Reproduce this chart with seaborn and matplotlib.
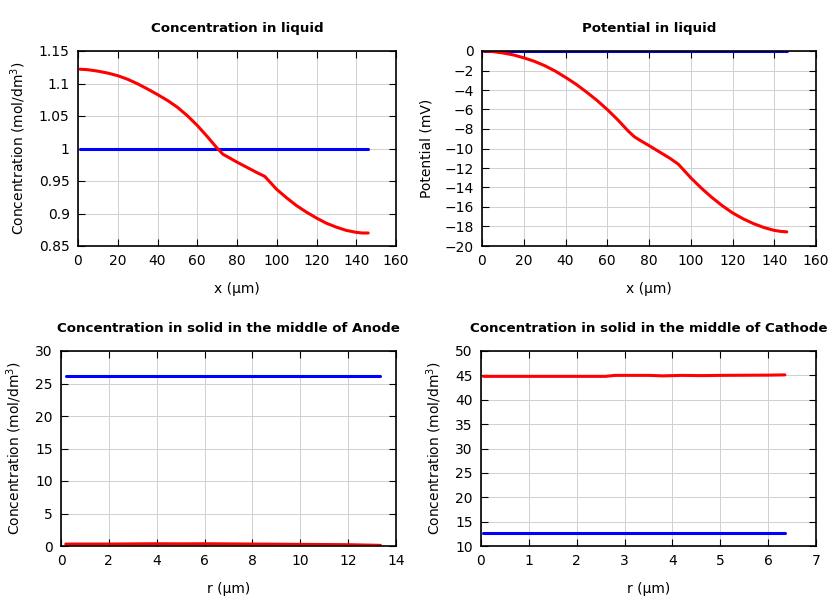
import numpy as np
import matplotlib
matplotlib.use("Agg")
import matplotlib.pyplot as plt
import seaborn as sns

sns.set_style("ticks")
plt.rcParams['font.family'] = ['DejaVu Sans']
plt.rcParams['text.color'] = 'black'
plt.rcParams['axes.labelcolor'] = 'black'
plt.rcParams['xtick.color'] = 'black'
plt.rcParams['ytick.color'] = 'black'

# Concentration in liquid (mol/dm3) vs x (um)
x_liq = [1, 5, 10, 15, 20, 25, 30, 35, 40, 45, 50, 55, 60, 65, 70, 73, 76, 80, 85, 90, 94,
         97, 100, 105, 110, 115, 120, 125, 130, 135, 140, 143, 146]
c_liq_red = [1.1220, 1.1212, 1.1190, 1.1160, 1.1120, 1.1065, 1.0995, 1.0915, 1.0830,
             1.0740, 1.0635, 1.0505, 1.0355, 1.0185, 1.0005, 0.991, 0.986, 0.979, 0.971,
             0.963, 0.957, 0.947, 0.937, 0.924, 0.912, 0.902, 0.893, 0.885, 0.879, 0.874,
             0.871, 0.870, 0.870]
c_liq_blue = [1.0] * len(x_liq)

# Potential in liquid (mV)
phi_red = [0.0, -0.05, -0.2, -0.4, -0.7, -1.05, -1.5, -2.05, -2.7, -3.4, -4.2,
           -5.05, -6.0, -7.05, -8.2, -8.8, -9.2, -9.7, -10.35, -11.0, -11.6,
           -12.3, -13.0, -14.05, -15.0, -15.85, -16.6, -17.2, -17.7, -18.1, -18.4, -18.5, -18.55]
phi_blue = [0.0] * len(x_liq)

# Anode solid concentration vs r
r_an = [0.2, 2, 4, 5, 6, 8, 10, 12, 13.35]
c_an_red = [0.3, 0.3, 0.35, 0.33, 0.35, 0.3, 0.25, 0.2, 0.1]
c_an_blue = [26.1] * len(r_an)

# Cathode solid concentration vs r
r_ca = [0.05, 1, 2, 2.6, 2.8, 3.5, 3.8, 4.2, 4.6, 5, 6, 6.35]
c_ca_red = [44.8, 44.8, 44.8, 44.8, 45.0, 45.0, 44.9, 45.0, 44.95, 45.0, 45.05, 45.1]
c_ca_blue = [12.6] * len(r_ca)

fig = plt.figure(figsize=(8.4, 6.0), dpi=100)
W, H = 840, 600
def add_ax(x0, y0, x1, y1):
    return fig.add_axes([x0 / W, 1 - y1 / H, (x1 - x0) / W, (y1 - y0) / H])

ax1 = add_ax(78, 51, 396, 246)
ax2 = add_ax(482, 51, 816, 246)
ax3 = add_ax(61, 351, 396, 546)
ax4 = add_ax(481, 351, 816, 546)

panels = [
    (ax1, x_liq, c_liq_blue, c_liq_red, "Concentration in liquid", "x (µm)",
     "Concentration (mol/dm$^3$)", (0, 160), np.arange(0, 161, 20), (0.85, 1.15),
     np.arange(0.85, 1.151, 0.05), ["0.85", "0.9", "0.95", "1", "1.05", "1.1", "1.15"]),
    (ax2, x_liq, phi_blue, phi_red, "Potential in liquid", "x (µm)",
     "Potential (mV)", (0, 160), np.arange(0, 161, 20), (-20, 0),
     np.arange(-20, 1, 2), None),
    (ax3, r_an, c_an_blue, c_an_red, "Concentration in solid in the middle of Anode", "r (µm)",
     "Concentration (mol/dm$^3$)", (0, 14), np.arange(0, 15, 2), (0, 30),
     np.arange(0, 31, 5), None),
    (ax4, r_ca, c_ca_blue, c_ca_red, "Concentration in solid in the middle of Cathode", "r (µm)",
     "Concentration (mol/dm$^3$)", (0, 7), np.arange(0, 8, 1), (10, 50),
     np.arange(10, 51, 5), None),
]

for ax, xs, yb, yr, title, xl, yl, xlim, xt, ylim, yt, ytl in panels:
    sns.lineplot(x=xs, y=yb, ax=ax, color="#0000ff", linewidth=2.2)
    sns.lineplot(x=xs, y=yr, ax=ax, color="#ff0000", linewidth=2.2)
    ax.set_xlim(*xlim)
    ax.set_ylim(*ylim)
    ax.set_xticks(xt)
    ax.set_yticks(yt)
    if ytl is not None:
        ax.set_yticklabels(ytl)
    ax.grid(True, color="#d0d0d0", linewidth=0.7)
    ax.set_axisbelow(True)
    ax.tick_params(direction="in", top=True, right=True, length=5,
                   labelsize=10, color="black", width=0.8, pad=6)
    for s in ax.spines.values():
        s.set_color("black")
        s.set_linewidth(1.2)
    ax.set_title(title, fontsize=9.6, fontweight="bold", pad=14, color="black")
    ax.set_xlabel(xl, fontsize=10, labelpad=10)
    ax.set_ylabel(yl, fontsize=10, labelpad=8)

fig.savefig("out.png", dpi=100)
